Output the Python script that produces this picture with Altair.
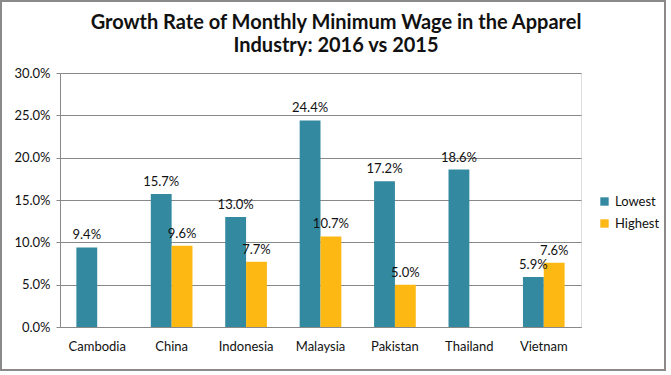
import altair as alt
import pandas as pd

countries = ["Cambodia", "China", "Indonesia", "Malaysia", "Pakistan", "Thailand", "Vietnam"]
lowest = [9.4, 15.7, 13.0, 24.4, 17.2, 18.6, 5.9]
highest = [None, 9.6, 7.7, 10.7, 5.0, None, 7.6]
series = ["Lowest", "Highest"]
colors = ["#3389A0", "#FDB813"]
y_ticks = [0, 0.05, 0.10, 0.15, 0.20, 0.25, 0.30]
title_lines = ["Growth Rate of Monthly Minimum Wage in the Apparel",
               "Industry: 2016 vs 2015"]

rows = []
for c, lo, hi in zip(countries, lowest, highest):
    if lo is not None:
        rows.append({"country": c, "series": "Lowest", "v": lo})
    if hi is not None:
        rows.append({"country": c, "series": "Highest", "v": hi})
df = pd.DataFrame(rows)

FONT = "Lato"

base = alt.Chart(df).transform_calculate(val="datum.v / 100")

x = alt.X("country:N", sort=countries, title=None,
          scale=alt.Scale(paddingInner=0.44, paddingOuter=0.22),
          axis=alt.Axis(labelAngle=0, ticks=False, domainColor="#888888",
                        labelFontSize=13, labelColor="#111111", labelPadding=13, labelFont=FONT))
xoff = alt.XOffset("series:N", sort=series, scale=alt.Scale(paddingInner=0))
y = alt.Y("val:Q", title=None,
          scale=alt.Scale(domain=[0, 0.30]),
          axis=alt.Axis(values=y_ticks, format=".1%", grid=True, gridColor="#888888",
                        domainColor="#888888", tickColor="#888888", tickSize=4,
                        labelFontSize=13, labelColor="#111111", labelPadding=6, labelFont=FONT))

bars = base.mark_bar().encode(
    x=x, xOffset=xoff, y=y,
    color=alt.Color("series:N", sort=series, scale=alt.Scale(domain=series, range=colors),
                    legend=alt.Legend(title=None, orient="none", legendX=538, legendY=122,
                                      symbolType="square", symbolSize=70, labelFontSize=13,
                                      labelFont=FONT, labelColor="#111111", rowPadding=8,
                                      symbolStrokeWidth=0)),
)

labels = base.mark_text(dy=-5, baseline="bottom", fontSize=13, font=FONT, color="#111111").encode(
    x=x, xOffset=xoff, y=y,
    text=alt.Text("val:Q", format=".1%"),
)

one = alt.Chart(pd.DataFrame({"a": [0]}))

border = one.mark_rect(
    fill=None, stroke="#8a8a8a", strokeWidth=2
).encode(x=alt.value(-59), x2=alt.value(605), y=alt.value(-72), y2=alt.value(297))

title1 = one.mark_text(fontSize=20, font=FONT, fontWeight="bold", color="#111111",
                       baseline="middle", align="center").encode(
    x=alt.value(276), y=alt.value(-50), text=alt.value(title_lines[0]))
title2 = one.mark_text(fontSize=20, font=FONT, fontWeight="bold", color="#111111",
                       baseline="middle", align="center").encode(
    x=alt.value(276), y=alt.value(-27), text=alt.value(title_lines[1]))

chart = alt.layer(bars, labels, border, title1, title2).properties(
    width=521, height=254,
    autosize=alt.AutoSizeParams(type="none"),
    padding={"left": 60, "top": 73, "right": 90, "bottom": 48},
).configure_view(stroke=None).configure(background="white")

chart.save("out.html", embed_options={"renderer": "svg", "actions": False})
